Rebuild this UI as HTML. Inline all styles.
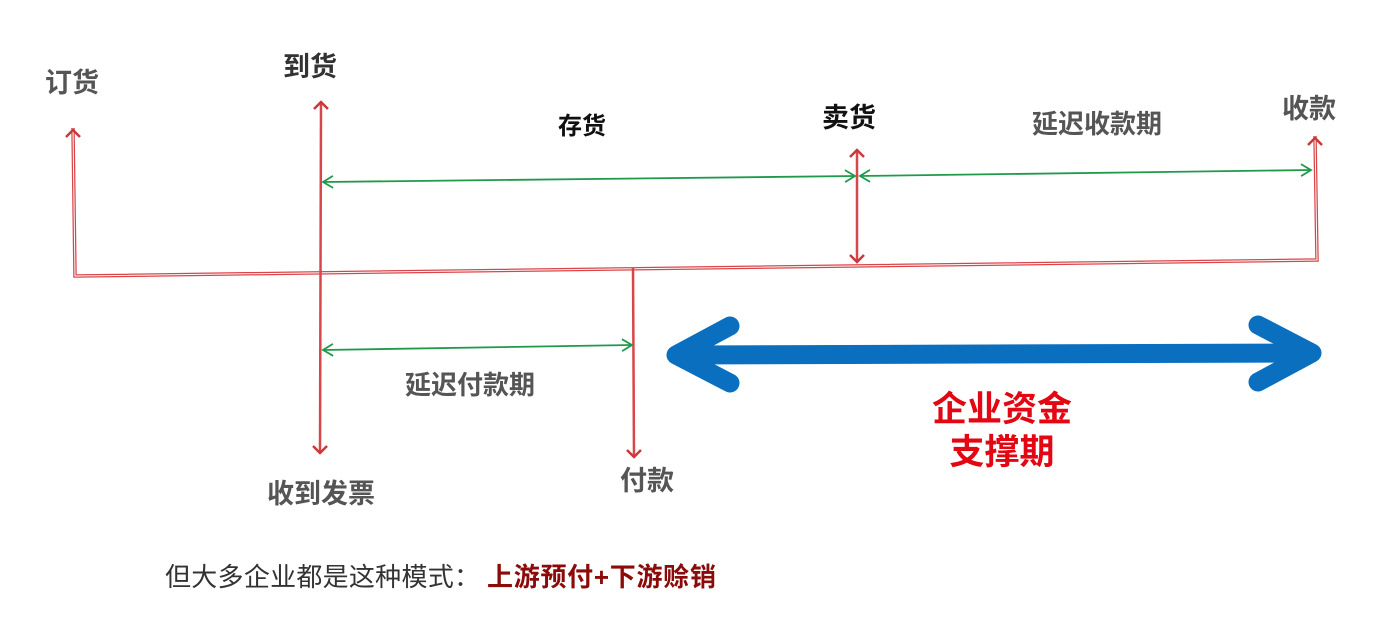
<!DOCTYPE html>
<html><head><meta charset="utf-8"><style>
html,body{margin:0;padding:0;background:#fff;width:1378px;height:618px;overflow:hidden}
text{font-family:"Liberation Sans","Noto Sans CJK SC",sans-serif;font-weight:bold}
</style></head><body>
<svg width="1378" height="618" viewBox="0 0 1378 618" xmlns="http://www.w3.org/2000/svg">
<defs>
<marker id="r" markerWidth="16" markerHeight="16" refX="8" refY="8" orient="auto-start-reverse" markerUnits="userSpaceOnUse"><path d="M1,1 L8,8 L1,15" fill="none" stroke="#c9393c" stroke-width="2.5"/></marker>
<marker id="g" markerWidth="14" markerHeight="14" refX="12" refY="7" orient="auto-start-reverse" markerUnits="userSpaceOnUse"><path d="M2,1 L12,7 L2,13" fill="none" stroke="#1f9a4a" stroke-width="1.8"/></marker>
</defs>
<g stroke="#d9464a" stroke-width="3.5" fill="none">
<path d="M73,128 L75,276 L1317,260 L1315,136"/>
</g>
<g stroke="#fff" stroke-width="1" fill="none">
<path d="M73,128 L75,276 L1317,260 L1315,136"/>
</g>
<g stroke="#d9464a" stroke-width="2.5" fill="none">
<line x1="321" y1="102" x2="320" y2="453" marker-start="url(#r)" marker-end="url(#r)"/>
<line x1="857" y1="150" x2="857" y2="262" marker-start="url(#r)" marker-end="url(#r)"/>
<line x1="633" y1="268" x2="634" y2="457" marker-end="url(#r)"/>
<line x1="73" y1="130" x2="73" y2="131" marker-start="url(#r)"/>
<line x1="1315" y1="138" x2="1315" y2="139" marker-start="url(#r)"/>
</g>
<g stroke="#1f9a4a" stroke-width="1.8" fill="none">
<line x1="323" y1="182" x2="855" y2="176" marker-start="url(#g)" marker-end="url(#g)"/>
<line x1="860" y1="176" x2="1311" y2="170" marker-start="url(#g)" marker-end="url(#g)"/>
<line x1="323" y1="350" x2="632" y2="345" marker-start="url(#g)" marker-end="url(#g)"/>
</g>
<g stroke="#0b6fbf" stroke-width="19" fill="none" stroke-linecap="round" stroke-linejoin="round">
<line x1="680" y1="355" x2="1310" y2="353"/>
<path d="M730,326 L676,355 L730,383"/>
<path d="M1258,325 L1312,353 L1258,382"/>
</g>
<text x="45" y="92" font-size="27" fill="#555">订货</text>
<text x="283" y="76" font-size="27" fill="#333">到货</text>
<text x="558" y="134" font-size="24" fill="#111">存货</text>
<text x="822" y="127" font-size="27" fill="#111">卖货</text>
<text x="1032" y="133" font-size="26" fill="#555">延迟收款期</text>
<text x="1282" y="118" font-size="27" fill="#555">收款</text>
<text x="405" y="394" font-size="26" fill="#555">延迟付款期</text>
<text x="267" y="503" font-size="27" fill="#555">收到发票</text>
<text x="620" y="490" font-size="27" fill="#555">付款</text>
<text x="1002" y="421" font-size="35" fill="#e30613" text-anchor="middle">企业资金</text>
<text x="1002" y="464" font-size="35" fill="#e30613" text-anchor="middle">支撑期</text>
<text x="165" y="586" font-size="26" style="font-weight:normal" fill="#333" textLength="315" lengthAdjust="spacing">但大多企业都是这种模式：</text>
<text x="487" y="586" font-size="26" fill="#8b0a0a" textLength="229" lengthAdjust="spacing">上游预付+下游赊销</text>
</svg>
</body></html>
